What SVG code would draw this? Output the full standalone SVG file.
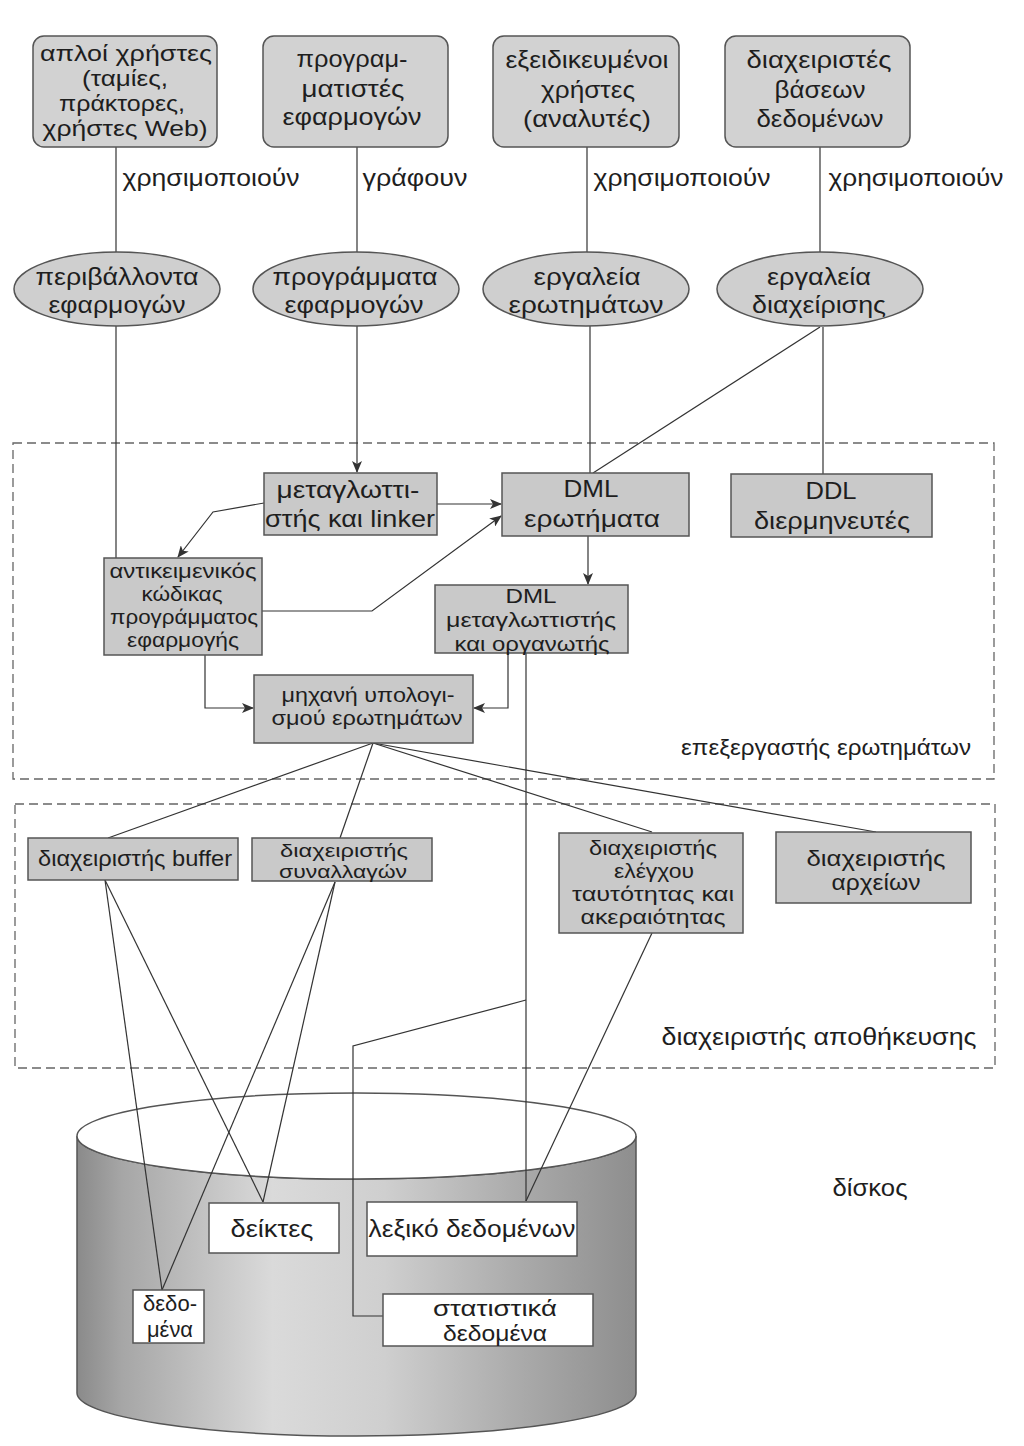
<svg xmlns="http://www.w3.org/2000/svg" width="1024" height="1446" viewBox="0 0 1024 1446">
<defs>
<style>
text{font-family:"Liberation Sans","DejaVu Sans",sans-serif;fill:#1e1e1e;text-anchor:middle}
.s24{font-size:24px}.s22{font-size:22px}.s21{font-size:21px}.s20{font-size:20.5px}.s19{font-size:18.5px}.s215{font-size:21.5px}
.user{fill:#d2d2d2;stroke:#555;stroke-width:1.5}
.tool{fill:#cfcfcf;stroke:#555;stroke-width:1.5}
.box{fill:#c9c9c9;stroke:#555;stroke-width:1.5}
.wbox{fill:#fff;stroke:#555;stroke-width:1.5}
.frame{fill:none;stroke:#666;stroke-width:1.3;stroke-dasharray:9 5}
.c{fill:none;stroke:#333;stroke-width:1.2}
.a{marker-end:url(#arr)}
</style>
<marker id="arr" viewBox="0 0 12 10" refX="11" refY="5" markerWidth="13" markerHeight="10" markerUnits="userSpaceOnUse" orient="auto">
<path d="M0,0 L12,5 L0,10 L3,5 Z" fill="#333"/>
</marker>
<linearGradient id="cyl" x1="0" y1="0" x2="1" y2="0">
<stop offset="0" stop-color="#8a8a8a"/>
<stop offset="0.08" stop-color="#a6a6a6"/>
<stop offset="0.35" stop-color="#dadada"/>
<stop offset="0.55" stop-color="#cfcfcf"/>
<stop offset="0.8" stop-color="#a9a9a9"/>
<stop offset="1" stop-color="#8e8e8e"/>
</linearGradient>
</defs>
<rect width="1024" height="1446" fill="#fff"/>

<!-- frames -->
<g id="query-processor">
<rect class="frame" x="13" y="443" width="981" height="336"/>
<text class="s22" x="826" y="755" textLength="290" lengthAdjust="spacingAndGlyphs">επεξεργαστής ερωτημάτων</text>
</g>
<g id="storage-manager">
<rect class="frame" x="15" y="804" width="980" height="264"/>
<text class="s24" x="819" y="1045" textLength="315" lengthAdjust="spacingAndGlyphs">διαχειριστής αποθήκευσης</text>
</g>

<!-- disk -->
<g id="disk">
<path d="M77,1136 L77,1393 A279.5,43 0 0 0 636,1393 L636,1136 A279.5,43 0 0 1 77,1136 Z" fill="url(#cyl)" stroke="#555" stroke-width="1.5"/>
<ellipse cx="356.5" cy="1136" rx="279.5" ry="43" fill="#fff" stroke="#555" stroke-width="1.5"/>
<text class="s24" x="870" y="1196" textLength="75" lengthAdjust="spacingAndGlyphs">δίσκος</text>
</g>

<!-- connectors -->
<g id="connectors">
<line class="c" x1="116" y1="147" x2="116" y2="252"/>
<line class="c" x1="357" y1="147" x2="357" y2="252"/>
<line class="c" x1="587" y1="147" x2="587" y2="253"/>
<line class="c" x1="820" y1="147" x2="820" y2="253"/>
<line class="c" x1="116" y1="326" x2="116" y2="558"/>
<line class="c a" x1="357" y1="326" x2="357" y2="472"/>
<line class="c" x1="590" y1="326" x2="590" y2="473"/>
<line class="c" x1="820" y1="327" x2="593" y2="473"/>
<line class="c" x1="823" y1="327" x2="823" y2="474"/>
<polyline class="c a" points="264,503 213,512 178,557"/>
<line class="c a" x1="437" y1="504" x2="501" y2="504"/>
<polyline class="c a" points="262,611 372,611 501,516"/>
<polyline class="c a" points="205,655 205,708 253,708"/>
<polyline class="c a" points="508,653 508,708 474,708"/>
<line class="c a" x1="588" y1="536" x2="588" y2="584"/>
<line class="c" x1="373" y1="743" x2="108" y2="838"/>
<line class="c" x1="373" y1="743" x2="340" y2="838"/>
<line class="c" x1="373" y1="743" x2="652" y2="832"/>
<line class="c" x1="373" y1="743" x2="876" y2="832"/>
<line class="c" x1="526" y1="653" x2="526" y2="1201"/>
<line class="c" x1="652" y1="933" x2="526" y2="1201"/>
<polyline class="c" points="526,1000 353,1046 353,1316 383,1316"/>
<line class="c" x1="105" y1="880" x2="162" y2="1290"/>
<line class="c" x1="105" y1="880" x2="263" y2="1202"/>
<line class="c" x1="335" y1="882" x2="162" y2="1290"/>
<line class="c" x1="335" y1="882" x2="263" y2="1202"/>
</g>

<!-- users -->
<g id="naive-users">
<rect class="user" x="33" y="36" width="184" height="111" rx="11"/>
<text class="s22" x="126" y="61" textLength="172" lengthAdjust="spacingAndGlyphs">απλοί χρήστες</text>
<text class="s22" x="125" y="86" textLength="86" lengthAdjust="spacingAndGlyphs">(ταμίες,</text>
<text class="s22" x="122" y="111" textLength="126" lengthAdjust="spacingAndGlyphs">πράκτορες,</text>
<text class="s22" x="125" y="136" textLength="165" lengthAdjust="spacingAndGlyphs">χρήστες Web)</text>
</g>
<g id="app-programmers">
<rect class="user" x="263" y="36" width="185" height="111" rx="11"/>
<text class="s24" x="352" y="67" textLength="111" lengthAdjust="spacingAndGlyphs">προγραμ-</text>
<text class="s24" x="353" y="97" textLength="103" lengthAdjust="spacingAndGlyphs">ματιστές</text>
<text class="s24" x="352" y="125" textLength="139" lengthAdjust="spacingAndGlyphs">εφαρμογών</text>
</g>
<g id="sophisticated-users">
<rect class="user" x="493" y="36" width="186" height="111" rx="11"/>
<text class="s24" x="587" y="68" textLength="163" lengthAdjust="spacingAndGlyphs">εξειδικευμένοι</text>
<text class="s24" x="588" y="98" textLength="94" lengthAdjust="spacingAndGlyphs">χρήστες</text>
<text class="s24" x="587" y="127" textLength="128" lengthAdjust="spacingAndGlyphs">(αναλυτές)</text>
</g>
<g id="dba">
<rect class="user" x="725" y="36" width="185" height="111" rx="11"/>
<text class="s24" x="819" y="68" textLength="145" lengthAdjust="spacingAndGlyphs">διαχειριστές</text>
<text class="s24" x="820" y="98" textLength="91" lengthAdjust="spacingAndGlyphs">βάσεων</text>
<text class="s24" x="820" y="127" textLength="127" lengthAdjust="spacingAndGlyphs">δεδομένων</text>
</g>

<!-- verb labels -->
<g id="labels">
<text class="s24" x="211" y="186" textLength="177" lengthAdjust="spacingAndGlyphs">χρησιμοποιούν</text>
<text class="s24" x="415" y="186" textLength="105" lengthAdjust="spacingAndGlyphs">γράφουν</text>
<text class="s24" x="682" y="186" textLength="177" lengthAdjust="spacingAndGlyphs">χρησιμοποιούν</text>
<text class="s24" x="916" y="186" textLength="175" lengthAdjust="spacingAndGlyphs">χρησιμοποιούν</text>
</g>

<!-- tools -->
<g id="app-interfaces">
<ellipse class="tool" cx="117" cy="289" rx="103" ry="37"/>
<text class="s24" x="117" y="285" textLength="163" lengthAdjust="spacingAndGlyphs">περιβάλλοντα</text>
<text class="s24" x="117" y="313" textLength="137" lengthAdjust="spacingAndGlyphs">εφαρμογών</text>
</g>
<g id="app-programs">
<ellipse class="tool" cx="356" cy="289" rx="103" ry="37"/>
<text class="s24" x="355" y="285" textLength="165" lengthAdjust="spacingAndGlyphs">προγράμματα</text>
<text class="s24" x="354" y="313" textLength="139" lengthAdjust="spacingAndGlyphs">εφαρμογών</text>
</g>
<g id="query-tools">
<ellipse class="tool" cx="586" cy="289" rx="103" ry="37"/>
<text class="s24" x="587" y="285" textLength="107" lengthAdjust="spacingAndGlyphs">εργαλεία</text>
<text class="s24" x="586" y="313" textLength="155" lengthAdjust="spacingAndGlyphs">ερωτημάτων</text>
</g>
<g id="admin-tools">
<ellipse class="tool" cx="820" cy="289" rx="103" ry="37"/>
<text class="s24" x="819" y="285" textLength="104" lengthAdjust="spacingAndGlyphs">εργαλεία</text>
<text class="s24" x="819" y="313" textLength="134" lengthAdjust="spacingAndGlyphs">διαχείρισης</text>
</g>

<!-- query processor nodes -->
<g id="compiler-linker">
<rect class="box" x="264" y="473" width="173" height="62"/>
<text class="s24" x="348" y="498" textLength="143" lengthAdjust="spacingAndGlyphs">μεταγλωττι-</text>
<text class="s24" x="350" y="527" textLength="170" lengthAdjust="spacingAndGlyphs">στής και linker</text>
</g>
<g id="dml-queries">
<rect class="box" x="502" y="473" width="187" height="63"/>
<text class="s24" x="591" y="497" textLength="55" lengthAdjust="spacingAndGlyphs">DML</text>
<text class="s24" x="592" y="527" textLength="136" lengthAdjust="spacingAndGlyphs">ερωτήματα</text>
</g>
<g id="ddl-interpreter">
<rect class="box" x="731" y="474" width="201" height="63"/>
<text class="s24" x="831" y="499" textLength="51" lengthAdjust="spacingAndGlyphs">DDL</text>
<text class="s24" x="832" y="529" textLength="156" lengthAdjust="spacingAndGlyphs">διερμηνευτές</text>
</g>
<g id="object-code">
<rect class="box" x="104" y="558" width="158" height="97"/>
<text class="s20" x="183" y="578" textLength="147" lengthAdjust="spacingAndGlyphs">αντικειμενικός</text>
<text class="s20" x="182" y="601" textLength="81" lengthAdjust="spacingAndGlyphs">κώδικας</text>
<text class="s20" x="184" y="624" textLength="148" lengthAdjust="spacingAndGlyphs">προγράμματος</text>
<text class="s20" x="183" y="647" textLength="112" lengthAdjust="spacingAndGlyphs">εφαρμογής</text>
</g>
<g id="dml-compiler">
<rect class="box" x="435" y="585" width="193" height="68"/>
<text class="s21" x="531" y="603" textLength="51" lengthAdjust="spacingAndGlyphs">DML</text>
<text class="s21" x="531" y="627" textLength="170" lengthAdjust="spacingAndGlyphs">μεταγλωττιστής</text>
<text class="s21" x="532" y="651" textLength="155" lengthAdjust="spacingAndGlyphs">και οργανωτής</text>
</g>
<g id="query-engine">
<rect class="box" x="254" y="675" width="219" height="68"/>
<text class="s20" x="368" y="702" textLength="173" lengthAdjust="spacingAndGlyphs">μηχανή υπολογι-</text>
<text class="s20" x="367" y="725" textLength="191" lengthAdjust="spacingAndGlyphs">σμού ερωτημάτων</text>
</g>

<!-- storage nodes -->
<g id="buffer-manager">
<rect class="box" x="28" y="838" width="210" height="42"/>
<text class="s22" x="135" y="866" textLength="194" lengthAdjust="spacingAndGlyphs">διαχειριστής buffer</text>
</g>
<g id="transaction-manager">
<rect class="box" x="252" y="838" width="180" height="43"/>
<text class="s19" x="344" y="857" textLength="128" lengthAdjust="spacingAndGlyphs">διαχειριστής</text>
<text class="s19" x="343" y="878" textLength="128" lengthAdjust="spacingAndGlyphs">συναλλαγών</text>
</g>
<g id="authorization-manager">
<rect class="box" x="559" y="833" width="184" height="100"/>
<text class="s20" x="653" y="855" textLength="128" lengthAdjust="spacingAndGlyphs">διαχειριστής</text>
<text class="s20" x="654" y="878" textLength="80" lengthAdjust="spacingAndGlyphs">ελέγχου</text>
<text class="s20" x="653" y="901" textLength="162" lengthAdjust="spacingAndGlyphs">ταυτότητας και</text>
<text class="s20" x="653" y="924" textLength="145" lengthAdjust="spacingAndGlyphs">ακεραιότητας</text>
</g>
<g id="file-manager">
<rect class="box" x="776" y="832" width="195" height="71"/>
<text class="s215" x="876" y="866" textLength="139" lengthAdjust="spacingAndGlyphs">διαχειριστής</text>
<text class="s215" x="876" y="890" textLength="89" lengthAdjust="spacingAndGlyphs">αρχείων</text>
</g>

<!-- disk contents -->
<g id="indices">
<rect class="wbox" x="209" y="1203" width="130" height="50"/>
<text class="s24" x="272" y="1237" textLength="83" lengthAdjust="spacingAndGlyphs">δείκτες</text>
</g>
<g id="data-dictionary">
<rect class="wbox" x="367" y="1202" width="210" height="54"/>
<text class="s24" x="472" y="1237" textLength="207" lengthAdjust="spacingAndGlyphs">λεξικό δεδομένων</text>
</g>
<g id="data">
<rect class="wbox" x="133" y="1290" width="71" height="53"/>
<text class="s22" x="170" y="1311" textLength="54" lengthAdjust="spacingAndGlyphs">δεδο-</text>
<text class="s22" x="170" y="1337" textLength="46" lengthAdjust="spacingAndGlyphs">μένα</text>
</g>
<g id="statistical-data">
<rect class="wbox" x="383" y="1294" width="210" height="52"/>
<text class="s22" x="495" y="1316" textLength="124" lengthAdjust="spacingAndGlyphs">στατιστικά</text>
<text class="s22" x="495" y="1341" textLength="104" lengthAdjust="spacingAndGlyphs">δεδομένα</text>
</g>
</svg>
